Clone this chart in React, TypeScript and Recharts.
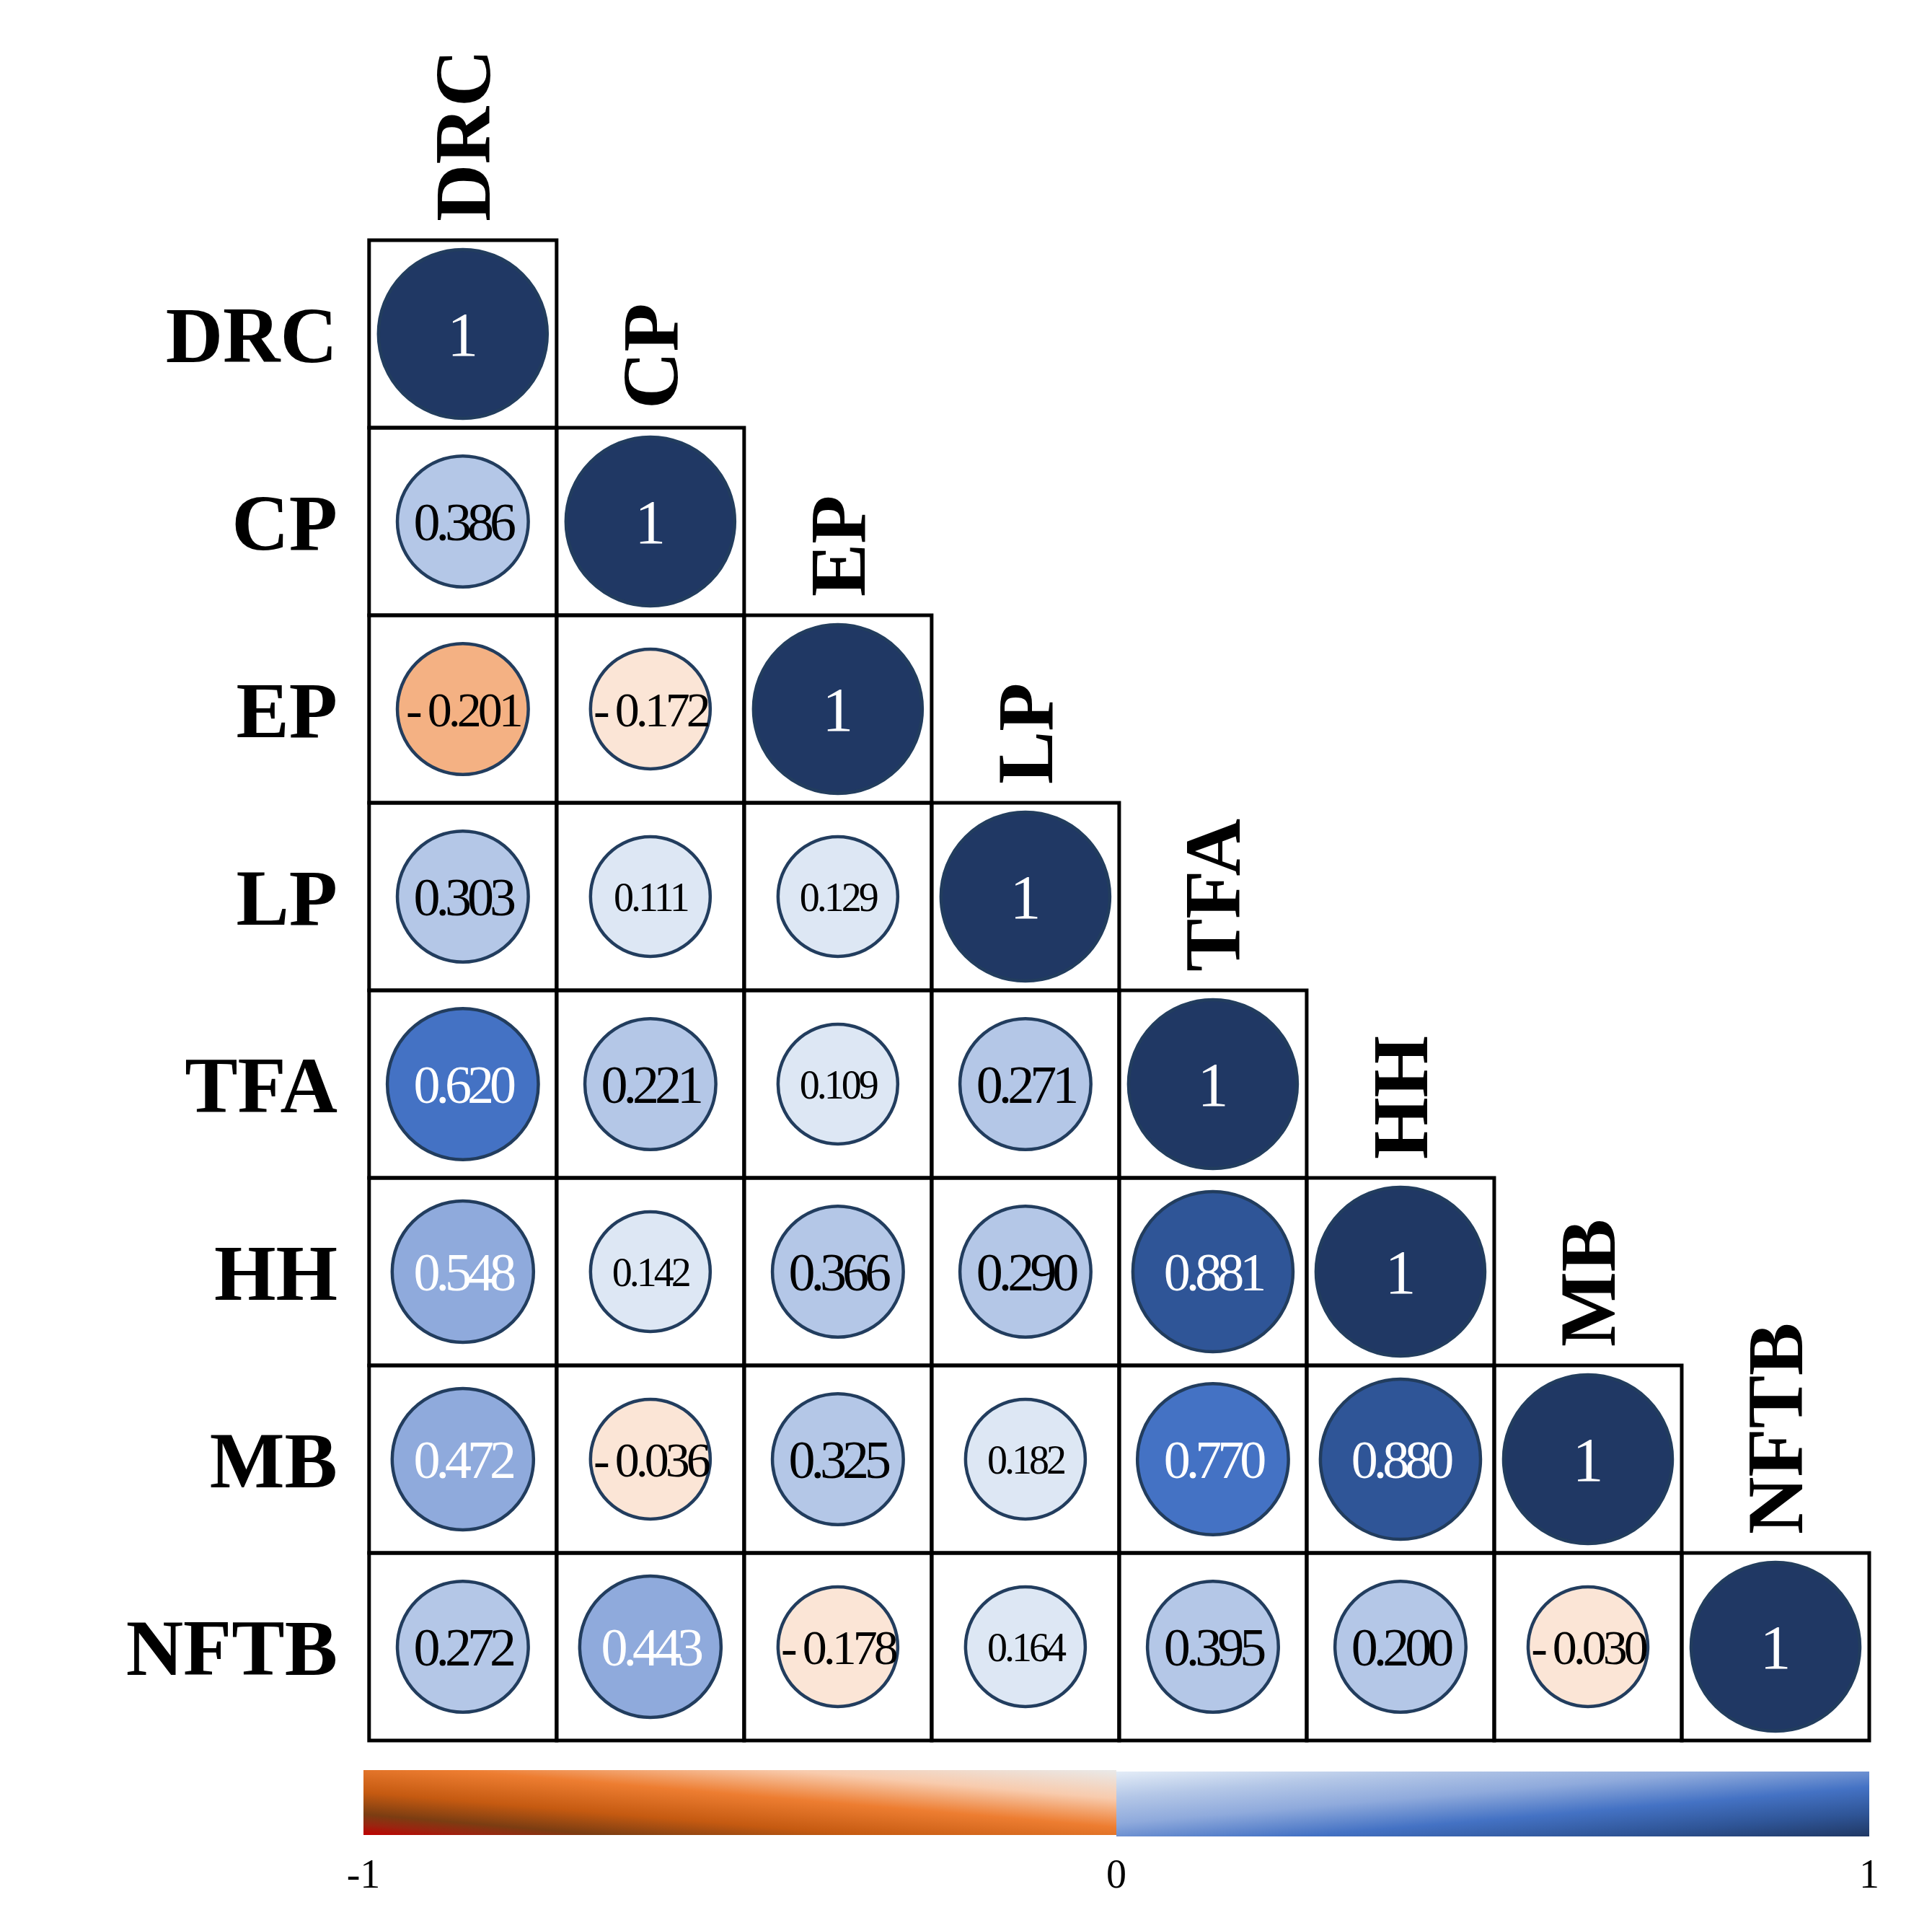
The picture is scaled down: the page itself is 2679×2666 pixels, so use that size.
import React from 'react';
import { ReferenceArea, Scatter, ScatterChart, XAxis, YAxis, ZAxis } from 'recharts';

const VARIABLES = ['DRC', 'CP', 'EP', 'LP', 'TFA', 'HH', 'MB', 'NFTB'];

// lower triangle, row by row
const CORR_DRC = [1];
const CORR_CP = [0.386, 1];
const CORR_EP = [-0.201, -0.172, 1];
const CORR_LP = [0.303, 0.111, 0.129, 1];
const CORR_TFA = [0.62, 0.221, 0.109, 0.271, 1];
const CORR_HH = [0.548, 0.142, 0.366, 0.29, 0.881, 1];
const CORR_MB = [0.472, -0.036, 0.325, 0.182, 0.77, 0.88, 1];
const CORR_NFTB = [0.272, 0.443, -0.178, 0.164, 0.395, 0.2, -0.03, 1];

const CORR_ROWS = [CORR_DRC, CORR_CP, CORR_EP, CORR_LP, CORR_TFA, CORR_HH, CORR_MB, CORR_NFTB];

const COLORBAR_TICKS = [-1, 0, 1];

const POS_FILLS = ['#dde7f4', '#b4c7e7', '#8faadc', '#4472c4', '#2f5597', '#203864'];
const NEG_FILLS = ['#fbe5d6', '#f4b183', '#f4b183', '#c55a11', '#843c0c', '#c00000'];
const STROKE = '#223d5e';
const SERIF = '"Liberation Serif", "Times New Roman", serif';

// colour bar sits a hair left of the grid
const CB_X0 = -0.03;
const CB_X1 = 8;
const cbX = (v: number) => CB_X0 + ((v + 1) / 2) * (CB_X1 - CB_X0);

const binOf = (v: number) => (Math.abs(v) >= 1 ? 5 : Math.floor(Math.abs(v) / 0.2));

const cellData = CORR_ROWS.flatMap((row, i) =>
  row.map((value, j) => ({ x: j + 0.5, y: i + 0.5, z: binOf(value), value, row: i, col: j })),
);

const topLabelData = VARIABLES.map((name, i) => ({ x: i + 0.5, y: i, name }));

const colorbarLabelData = COLORBAR_TICKS.map((v) => ({ x: cbX(v), y: 8.71, label: String(v) }));

const formatValue = (v: number) => {
  if (v === 1) return '1';
  if (v < 0) return `- ${Math.abs(v).toFixed(3)}`;
  return v.toFixed(3);
};

const CircleCell = (props: any) => {
  const { cx, cy, width, payload } = props;
  const v: number = payload.value;
  const bin = binOf(v);
  const fill = v >= 0 ? POS_FILLS[bin] : NEG_FILLS[bin];
  const white = v >= 0.4;
  let fontSize = 74;
  let spacing = -6;
  if (v === 1) {
    fontSize = 86;
    spacing = 0;
  } else if (v < 0) {
    fontSize = 68;
    spacing = -5;
  } else if (bin === 0) {
    fontSize = 56;
    spacing = -4;
  }
  return (
    <g>
      <circle cx={cx} cy={cy} r={width / 2 - 2} fill={fill} stroke={STROKE} strokeWidth={4.5} />
      <text
        x={cx}
        y={cy}
        dy="0.35em"
        textAnchor="middle"
        fontFamily={SERIF}
        fontSize={fontSize}
        letterSpacing={spacing}
        fill={white ? '#ffffff' : '#000000'}
      >
        {formatValue(v)}
      </text>
    </g>
  );
};

const TopLabel = (props: any) => {
  const { cx, cy, payload } = props;
  const y = cy - 26;
  return (
    <text
      x={cx}
      y={y}
      transform={`rotate(-90 ${cx} ${y})`}
      textAnchor="start"
      dominantBaseline="central"
      fontFamily={SERIF}
      fontWeight="bold"
      fontSize={110}
      fill="#000"
    >
      {payload.name}
    </text>
  );
};

const ColorbarLabel = (props: any) => {
  const { cx, cy, payload } = props;
  return (
    <text x={cx} y={cy} dy="0.35em" textAnchor="middle" fontFamily={SERIF} fontSize={56} fill="#000">
      {payload.label}
    </text>
  );
};

const RowTick = (props: any) => {
  const { x, y, payload } = props;
  return (
    <text x={x} y={y} dy="0.35em" textAnchor="end" fontFamily={SERIF} fontWeight="bold" fontSize={110} fill="#000">
      {VARIABLES[Math.round(payload.value - 0.5)]}
    </text>
  );
};

export default function App() {
  return (
    <div style={{ position: 'absolute', left: 0, top: 0, width: 2679, height: 2666, background: '#fff' }}>
      <svg width={0} height={0} style={{ position: 'absolute' }}>
        <defs>
          <linearGradient id="cbNeg" x1="0" y1="1" x2="1" y2="0">
            <stop offset="0" stopColor="#c00000" />
            <stop offset="0.08" stopColor="#9a2510" />
            <stop offset="0.16" stopColor="#7b3d12" />
            <stop offset="0.33" stopColor="#c55a11" />
            <stop offset="0.56" stopColor="#ed7d31" />
            <stop offset="0.78" stopColor="#f8cbad" />
            <stop offset="1" stopColor="#e9e9e9" />
          </linearGradient>
          <linearGradient id="cbPos" x1="0" y1="0" x2="1" y2="1">
            <stop offset="0" stopColor="#e3ecf7" />
            <stop offset="0.2" stopColor="#b4c7e7" />
            <stop offset="0.4" stopColor="#8faadc" />
            <stop offset="0.62" stopColor="#4472c4" />
            <stop offset="0.82" stopColor="#2f5597" />
            <stop offset="1" stopColor="#203864" />
          </linearGradient>
        </defs>
      </svg>
      <ScatterChart width={2679} height={2666} margin={{ top: 333, right: 87, bottom: 58, left: 24 }}>
        <XAxis type="number" dataKey="x" domain={[CB_X0, 8]} hide />
        <YAxis
          type="number"
          dataKey="y"
          domain={[0, 8.75]}
          reversed
          width={480}
          ticks={VARIABLES.map((_, i) => i + 0.5)}
          tick={<RowTick />}
          tickSize={0}
          tickMargin={36}
          tickLine={false}
          axisLine={false}
          interval={0}
        />
        <ZAxis type="number" dataKey="z" domain={[0, 5]} range={[22698, 44488]} />
        {CORR_ROWS.flatMap((row, i) =>
          row.map((_, j) => (
            <ReferenceArea
              key={`cell-${i}-${j}`}
              x1={j}
              x2={j + 1}
              y1={i}
              y2={i + 1}
              fill="none"
              fillOpacity={0}
              stroke="#000"
              strokeWidth={5}
              strokeOpacity={1}
            />
          )),
        )}
        <ReferenceArea x1={cbX(-1)} x2={cbX(0)} y1={8.158} y2={8.504} fill="url(#cbNeg)" fillOpacity={1} stroke="none" />
        <ReferenceArea x1={cbX(0)} x2={cbX(1)} y1={8.165} y2={8.512} fill="url(#cbPos)" fillOpacity={1} stroke="none" />
        <Scatter data={cellData} isAnimationActive={false} shape={(p: any) => <CircleCell {...p} />} />
        <Scatter data={topLabelData} isAnimationActive={false} shape={(p: any) => <TopLabel {...p} />} />
        <Scatter data={colorbarLabelData} isAnimationActive={false} shape={(p: any) => <ColorbarLabel {...p} />} />
      </ScatterChart>
    </div>
  );
}
